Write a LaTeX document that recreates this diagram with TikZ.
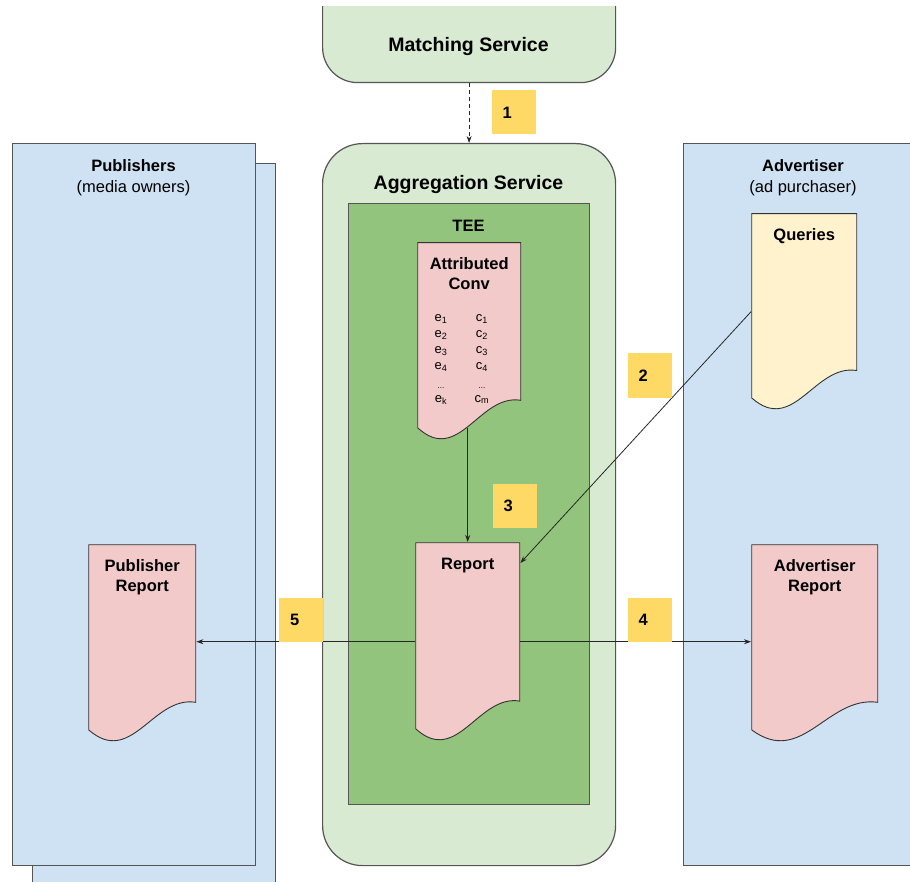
\documentclass[tikz,border=0pt]{standalone}
\usepackage{fontspec}
\setmainfont{Liberation Sans}
\usetikzlibrary{arrows.meta,calc,positioning}

\definecolor{partyblue}{HTML}{CFE2F3}
\definecolor{svcgreen}{HTML}{D9EAD3}
\definecolor{teegreen}{HTML}{93C47D}
\definecolor{reppink}{HTML}{F2CACA}
\definecolor{queryyellow}{HTML}{FFF2CC}
\definecolor{stepyellow}{HTML}{FFD966}
\definecolor{frameedge}{HTML}{555555}
\definecolor{docedge}{HTML}{333333}

\tikzset{
	panel/.style={rectangle, draw=frameedge, line width=1.2pt, fill=#1, anchor=north west, inner sep=0pt, minimum width=243pt},
	service/.style={rectangle, rounded corners=#1, draw=frameedge, line width=1.2pt, fill=svcgreen, anchor=north west, inner sep=0pt, minimum width=293pt},
	% page with a wavy foot, drawn inside the node box
	doc/.style={rectangle, anchor=north west, inner sep=0pt,
		path picture={
			\filldraw[fill=#1, draw=docedge, line width=0.9pt]
				let \p1=([shift={(0.5pt,-0.5pt)}]path picture bounding box.north west),
					\p2=([shift={(-0.5pt,0.5pt)}]path picture bounding box.south east),
					\n1={\y1-\y2}, \n2={\x2-\x1}
				in (\p1) -- (\x2,\y1) -- ({\x2},{\y1-0.8*\n1})
					.. controls ({\x2-0.4*\n2},{\y1-0.765*\n1}) and ({\x1+0.4*\n2},{\y1-1.13*\n1}) .. ({\x1},{\y1-0.94*\n1}) -- cycle;
		}},
	doctitle/.style={anchor=north, yshift=-12.5pt, align=center, font=\fontsize{16.5}{20}\selectfont\bfseries},
	svctitle/.style={anchor=base, font=\fontsize{19.5}{23}\selectfont\bfseries},
	paneltitle/.style={anchor=base, font=\fontsize{16.5}{20}\selectfont\bfseries},
	panelnote/.style={anchor=base, font=\fontsize{16.5}{20}\selectfont},
	vals/.style={anchor=north, inner sep=0pt, align=center, font=\fontsize{13}{16}\selectfont},
	stepbox/.style={fill=stepyellow, minimum height=44pt, text width=22pt, inner xsep=11pt, inner ysep=0pt, align=left, font=\fontsize{16.5}{20}\selectfont\bfseries},
	flow/.style={-{Stealth[length=7pt,width=5pt]}, line width=0.8pt, draw=black!85},
}

\newcommand{\tinydots}{{\fontsize{8}{8}\selectfont...}}

\begin{document}
\begin{tikzpicture}[x=1pt,y=-1pt]
	\useasboundingbox (0,0) rectangle (910,882);
	%\draw[help lines, step=50] (0,0) grid (910,882);

	%PARTIES
	\node[panel=partyblue, minimum height=740pt] (pubback) at (32,163) {};
	\node[panel=partyblue, minimum height=722pt] (pub) at (12,143) {};
	\node[panel=partyblue, minimum height=722pt] (adv) at (683,143) {};
	\node[paneltitle] (pubname) at (133.5,172) {Publishers};
	\node[panelnote] (pubnote) at (133.5,193) {(media owners)};
	\node[paneltitle] (advname) at (803,172) {Advertiser};
	\node[panelnote] (advnote) at (803,193) {(ad purchaser)};

	%SERVICES
	\begin{scope}
		\clip (0,7) rectangle (910,882);
		\node[service=35pt, minimum height=122pt] (match) at (322,-40) {};
	\end{scope}
	\node[svctitle] (matchname) at (468.5,52) {Matching Service};
	\node[service=40pt, minimum height=722pt] (agg) at (322,143) {};
	\node[svctitle] (aggname) at (468.5,190) {Aggregation Service};
	\node[rectangle, draw=frameedge, line width=1.2pt, fill=teegreen, anchor=north west, minimum width=241pt, minimum height=601pt] (tee) at (348,203) {};
	\node[paneltitle] (teename) at (468.5,232) {TEE};

	%DOCUMENTS
	\node[doc=reppink, minimum width=104pt, minimum height=198pt, label={[doctitle, name=attrname]north:{Attributed\\Conv}}] (attr) at (417,242) {};
	\node[vals] (evals) at (441,314) {e\textsubscript{1}\\e\textsubscript{2}\\e\textsubscript{3}\\e\textsubscript{4}\\[3pt]\tinydots\\[-2pt]e\textsubscript{k}};
	\node[vals] (cvals) at (482,314) {c\textsubscript{1}\\c\textsubscript{2}\\c\textsubscript{3}\\c\textsubscript{4}\\[3pt]\tinydots\\[-2pt]c\textsubscript{m}};
	\node[doc=reppink, minimum width=105pt, minimum height=199pt, label={[doctitle, name=reportname]north:Report}] (report) at (415,542) {};
	\node[doc=queryyellow, minimum width=106pt, minimum height=197pt, label={[doctitle, name=queriesname]north:Queries}] (queries) at (751,213) {};
	\node[doc=reppink, minimum width=108pt, minimum height=198pt, label={[doctitle, name=pubrepname]north:{Publisher\\Report}}] (pubrep) at (88,544) {};
	\node[doc=reppink, minimum width=127pt, minimum height=198pt, label={[doctitle, name=advrepname]north:{Advertiser\\Report}}] (advrep) at (751,544) {};

	%FLOWS
	\draw[flow, dash pattern=on 4pt off 3pt] (match.south) -- (agg.north);
	\draw[flow] ($(attr.south -| report.north)+(0,-12)$) -- (report.north);
	\draw[flow] (queries.west) -- ([yshift=-21pt]report.north east);
	\draw[flow] (report.east) -- (report.east -| advrep.west);
	\draw[flow] (report.west) -- (report.west -| pubrep.east);

	%STEPS
	\node[stepbox] (s1) at (513.5,112.5) {1};
	\node[stepbox] (s2) at (649.5,375.5) {2};
	\node[stepbox] (s3) at (514.5,505.5) {3};
	\node[stepbox] (s4) at (649.5,619.5) {4};
	\node[stepbox] (s5) at (301,619.5) {5};

\end{tikzpicture}
\end{document}
